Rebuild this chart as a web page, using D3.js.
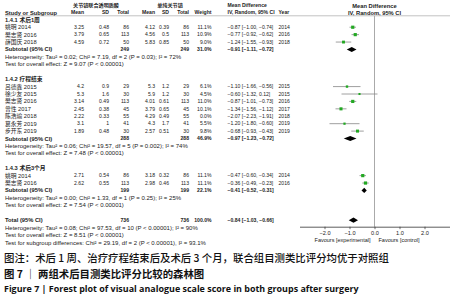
<!DOCTYPE html>
<html>
<head>
<meta charset="utf-8">
<script src="https://cdn.jsdelivr.net/npm/d3@7"></script>
<style>
  body { margin: 0; background: #fff; }
  svg { display: block; }
</style>
</head>
<body>
<div id="chart"></div>
<script>
// data
const groupLabels = ["1.4.1 术后1周", "1.4.2 疗程结束", "1.4.3 术后3个月"];
const studyNames = [
  ["姚明 2014", "樊志贤 2016", "薛国庆 2018"],
  ["吕德鑫 2015", "徐少友 2015", "樊志贤 2016", "曾性 2017", "陈浩瑜 2018", "葛永芳 2019", "步开东 2019"],
  ["姚明 2014", "樊志贤 2016"]
];
const expMean = [[3.25, 3.79, 4.59], [4.2, 5.3, 3.14, 2.45, 2.22, 3.1, 1.89], [2.71, 2.62]];
const expSD = [[0.48, 0.65, 0.72], [0.9, 1.6, 0.49, 0.38, 0.33, 1, 0.48], [0.54, 0.55]];
const expN = [[86, 113, 50], [29, 30, 113, 45, 55, 41, 30], [86, 113]];
const ctlMean = [[4.12, 4.56, 5.83], [5.3, 5.9, 4.01, 3.79, 4.29, 4.3, 2.57], [3.18, 2.98]];
const ctlSD = [[0.39, 0.5, 0.85], [1.2, 1.2, 0.61, 0.65, 0.49, 1.7, 0.51], [0.32, 0.46]];
const ctlN = [[86, 113, 50], [29, 30, 113, 45, 55, 41, 30], [86, 113]];
const weights = [[11.1, 10.9, 9.0], [6.1, 4.5, 11.0, 10.1, 0.0, 5.5, 9.8], [11.1, 11.1]];
const md = [[-0.87, -0.77, -1.24], [-1.10, -0.60, -0.87, -1.34, -2.07, -1.20, -0.68], [-0.47, -0.36]];
const ciLo = [[-1.00, -0.92, -1.55], [-1.66, -1.32, -1.01, -1.56, -2.23, -1.80, -0.93], [-0.60, -0.49]];
const ciHi = [[-0.74, -0.62, -0.93], [-0.56, 0.12, -0.73, -1.12, -1.91, -0.60, -0.43], [-0.34, -0.23]];
const years = [[2014, 2016, 2018], [2015, 2015, 2016, 2017, 2018, 2019, 2019], [2014, 2016]];

const subN = [249, 288, 199];
const subWeight = [31.0, 46.9, 22.1];
const subMD = [-0.91, -0.97, -0.41];
const subLo = [-1.11, -1.23, -0.52];
const subHi = [-0.72, -0.72, -0.31];
const hetText = [
  "Heterogeneity: Tau² = 0.02; Chi² = 7.19, df = 2 (P = 0.03); I² = 72%",
  "Heterogeneity: Tau² = 0.06; Chi² = 19.57, df = 5 (P = 0.002); I² = 74%",
  "Heterogeneity: Tau² = 0.00; Chi² = 1.33, df = 1 (P = 0.25); I² = 25%"
];
const effectText = [
  "Test for overall effect: Z = 9.07 (P < 0.00001)",
  "Test for overall effect: Z = 7.48 (P < 0.00001)",
  "Test for overall effect: Z = 7.54 (P < 0.00001)"
];

const totalN = 736;
const totalMD = -0.84, totalLo = -1.03, totalHi = -0.66;
const totalNotes = [
  "Heterogeneity: Tau² = 0.08; Chi² = 97.53, df = 10 (P < 0.00001); I² = 90%",
  "Test for overall effect: Z = 8.51 (P < 0.00001)",
  "Test for subgroup differences: Chi² = 29.19, df = 2 (P < 0.00001), I² = 93.1%"
];
const axisTicks = [-2, -1, 0, 1, 2];

const captions = [
  "图注：术后 1 周、治疗疗程结束后及术后 3 个月，联合组目测类比评分均优于对照组",
  "图 7 ｜ 两组术后目测类比评分比较的森林图",
  "Figure 7  |  Forest plot of visual analogue scale score in both groups after surgery"
];

const width = 452, height = 300;
const svg = d3.select("#chart").append("svg")
  .attr("width", width)
  .attr("height", height);

const fs = 5.1;      // table columns
const fsL = 5.75;    // labels on the left, plot headers
const fsN = 6.0;     // heterogeneity / effect notes
const font = "'Liberation Sans', Arial, sans-serif";
const cjkFont = "'Liberation Sans', 'Noto Sans CJK SC', sans-serif";
const ink = "#222";

// row positions
const rowY = i => 19.8 + i * 7.42;
const x = d3.scaleLinear().domain([-3, 3]).range([299.5, 449.5]);
const boxSize = d3.scaleSqrt().domain([0, 11.1]).range([0, 3.2]);
const fmt2 = d3.format(".2f");
const ciStr = (m, l, h) => `${fmt2(m)} [${fmt2(l)}, ${fmt2(h)}]`;

const g = svg.append("g")
  .style("font-family", font)
  .style("font-size", fs + "px")
  .attr("fill", ink);

function txt(xp, yp, s, anchor, bold, size) {
  return g.append("text")
    .attr("x", xp).attr("y", yp).attr("dy", "0.35em")
    .attr("text-anchor", anchor || "start")
    .attr("font-weight", bold ? "bold" : "normal")
    .style("font-size", (size || fs) + "px")
    .text(s);
}

// column right edges
const col = { eMean: 84, eSD: 109, eN: 129, cMean: 155, cSD: 169, cN: 189, w: 211.5, ci: 227.5, year: 278.5 };

// headers
txt(96, 5.5, "关节镜联合透明质酸", "middle", true).style("font-family", "'Noto Sans CJK SC'");
txt(170, 5.5, "单纯关节镜", "middle", true).style("font-family", "'Noto Sans CJK SC'");
txt(col.ci, 5.5, "Mean Difference", "start", true);
txt(x(0), 5.5, "Mean Difference", "middle", true, fsL);
const hy = 12.6;
txt(5, hy, "Study or Subgroup", "start", true, fsL);
txt(col.eMean, hy, "Mean", "end", true);
txt(col.eSD, hy, "SD", "end", true);
txt(col.eN, hy, "Total", "end", true);
txt(col.cMean, hy, "Mean", "end", true);
txt(col.cSD, hy, "SD", "end", true);
txt(col.cN, hy, "Total", "end", true);
txt(col.w, hy, "Weight", "end", true);
txt(col.ci, hy, "IV, Random, 95% CI", "start", true);
txt(col.year, hy, "Year", "start", true);
txt(x(0), hy, "IV, Random, 95% CI", "middle", true, fsL);

svg.append("line")
  .attr("x1", 5).attr("x2", 450).attr("y1", 15.8).attr("y2", 15.8)
  .attr("stroke", "#999").attr("stroke-width", 0.6);

// vertical no-effect line
const axisY = 226.7;
svg.append("line")
  .attr("x1", x(0)).attr("x2", x(0)).attr("y1", 15.8).attr("y2", axisY)
  .attr("stroke", "#aaa").attr("stroke-width", 1);

function diamond(yc, m, l, h) {
  const hh = 2.6;
  svg.append("path")
    .attr("d", `M${x(l)},${yc}L${x(m)},${yc - hh}L${x(h)},${yc}L${x(m)},${yc + hh}Z`)
    .attr("fill", "#000");
}

let r = 0;
groupLabels.forEach((label, gi) => {
  txt(5, rowY(r), label, "start", true, fsL).style("font-family", cjkFont);
  r++;
  studyNames[gi].forEach((name, si) => {
    const yc = rowY(r);
    txt(5, yc, name, "start", false, fsL).style("font-family", cjkFont);
    txt(col.eMean, yc, String(expMean[gi][si]), "end");
    txt(col.eSD, yc, String(expSD[gi][si]), "end");
    txt(col.eN, yc, String(expN[gi][si]), "end");
    txt(col.cMean, yc, String(ctlMean[gi][si]), "end");
    txt(col.cSD, yc, String(ctlSD[gi][si]), "end");
    txt(col.cN, yc, String(ctlN[gi][si]), "end");
    txt(col.w, yc, weights[gi][si].toFixed(1) + "%", "end");
    txt(col.ci, yc, ciStr(md[gi][si], ciLo[gi][si], ciHi[gi][si]), "start");
    txt(col.year, yc, String(years[gi][si]), "start");
    if (weights[gi][si] > 0) {
      svg.append("line")
        .attr("x1", x(ciLo[gi][si])).attr("x2", x(ciHi[gi][si]))
        .attr("y1", yc).attr("y2", yc)
        .attr("stroke", "#888").attr("stroke-width", 0.8);
      const s = boxSize(weights[gi][si]);
      svg.append("rect")
        .attr("x", x(md[gi][si]) - s / 2).attr("y", yc - s / 2)
        .attr("width", s).attr("height", s)
        .attr("fill", "#22a822");
    }
    r++;
  });
  const ys = rowY(r);
  txt(5, ys, "Subtotal (95% CI)", "start", true, fsL);
  txt(col.eN, ys, String(subN[gi]), "end", true);
  txt(col.cN, ys, String(subN[gi]), "end", true);
  txt(col.w, ys, subWeight[gi].toFixed(1) + "%", "end", true);
  txt(col.ci, ys, ciStr(subMD[gi], subLo[gi], subHi[gi]), "start", true);
  diamond(ys, subMD[gi], subLo[gi], subHi[gi]);
  r++;
  txt(5, rowY(r), hetText[gi], "start", false, fsN); r++;
  txt(5, rowY(r), effectText[gi], "start", false, fsN); r++;
  r++;
});

const yt = rowY(r);
txt(5, yt, "Total (95% CI)", "start", true, fsL);
txt(col.eN, yt, String(totalN), "end", true);
txt(col.cN, yt, String(totalN), "end", true);
txt(col.w, yt, "100.0%", "end", true);
txt(col.ci, yt, ciStr(totalMD, totalLo, totalHi), "start", true);
diamond(yt, totalMD, totalLo, totalHi);
r++;
totalNotes.forEach(s => { txt(5, rowY(r), s, "start", false, fsN); r++; });

// axis
const ax = svg.append("g")
  .attr("transform", `translate(0,${axisY})`)
  .call(d3.axisBottom(x).tickValues(axisTicks).tickSize(2.5).tickSizeOuter(0).tickPadding(1.5));
ax.select(".domain").attr("stroke", "#333").attr("stroke-width", 0.8);
ax.selectAll(".tick line").attr("stroke", "#333").attr("stroke-width", 0.7);
ax.selectAll(".tick text").style("font-family", font).style("font-size", "5.6px").attr("fill", ink);

txt(x(0) - 4, 240.5, "Favours [experimental]", "end", false, 5.5);
txt(x(0) + 4, 240.5, "Favours [control]", "start", false, 5.5);

// captions
const cap = svg.append("g").attr("fill", "#111");
cap.append("text").attr("x", 4).attr("y", 261.5)
  .style("font-family", "'Noto Sans CJK SC'").style("font-size", "10.4px")
  .attr("font-weight", "500").text(captions[0]);
cap.append("text").attr("x", 4).attr("y", 278)
  .style("font-family", "'Noto Sans CJK SC'").style("font-size", "10.4px")
  .attr("font-weight", "bold").text(captions[1]);
const c3 = cap.append("text").attr("x", 4).attr("y", 291.5)
  .style("font-family", "'Open Sans', sans-serif").style("font-size", "8.4px")
  .attr("font-weight", "bold").text(captions[2]);
// fit english caption to the width it has in the original
const w3 = c3.node().getComputedTextLength();
c3.style("font-size", (8.4 * 354 / w3).toFixed(2) + "px");
</script>
</body>
</html>
